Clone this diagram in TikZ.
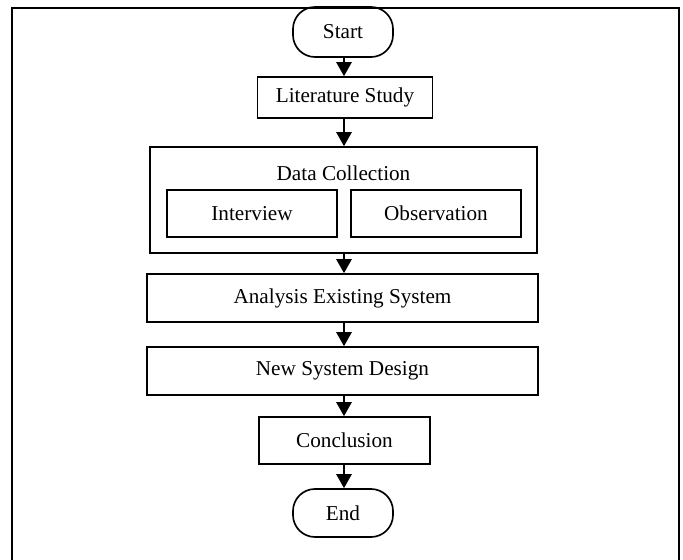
\documentclass[tikz,border=0pt]{standalone}
\usepackage{fontspec}
\setmainfont{Liberation Serif}
\usetikzlibrary{arrows.meta}
\begin{document}
\begin{tikzpicture}[x=0.75pt,y=-0.75pt,
  box/.style={draw,line width=1.25pt,rectangle,inner sep=0pt,font=\fontsize{15.9}{19}\selectfont},
  term/.style={box,rounded corners=16.5pt},
  lbl/.style={inner sep=0pt,font=\fontsize{15.9}{19}\selectfont},
  flow/.style={line width=1.25pt,-{Triangle[length=10.5pt,width=11.5pt]}}]
\useasboundingbox (0,0) rectangle (683,560);
\draw[line width=1.7pt] (12,565) -- (12,8) -- (679,8) -- (679,565);
\node[term,minimum width=75pt,minimum height=37.5pt] (start) at (343,32) {Start};
\node[box,minimum width=131.25pt,minimum height=30.75pt] (lit) at (345,97.5) {Literature Study};
\node[box,minimum width=290.25pt,minimum height=79.5pt] (dc) at (343.5,200) {};
\node[lbl] (dclabel) at (343.5,173) {Data Collection};
\node[box,minimum width=127.5pt,minimum height=35.25pt] (int) at (252,213.5) {Interview};
\node[box,minimum width=127.5pt,minimum height=35.25pt] (obs) at (436,213.5) {Observation};
\node[box,minimum width=293.25pt,minimum height=36pt] (ana) at (342.5,298) {Analysis Existing System};
\node[box,minimum width=293.25pt,minimum height=36pt] (new) at (342.5,371) {New System Design};
\node[box,minimum width=128.25pt,minimum height=35.25pt] (con) at (344.5,440.5) {Conclusion};
\node[term,minimum width=75pt,minimum height=36pt] (end) at (343,513) {End};
\coordinate (ax) at (344,0);
\draw[flow] (ax |- start.south) -- (ax |- lit.north);
\draw[flow] (ax |- lit.south) -- (ax |- dc.north);
\draw[flow] (ax |- dc.south) -- (ax |- ana.north);
\draw[flow] (ax |- ana.south) -- (ax |- new.north);
\draw[flow] (ax |- new.south) -- (ax |- con.north);
\draw[flow] (ax |- con.south) -- (ax |- end.north);
\end{tikzpicture}
\end{document}
